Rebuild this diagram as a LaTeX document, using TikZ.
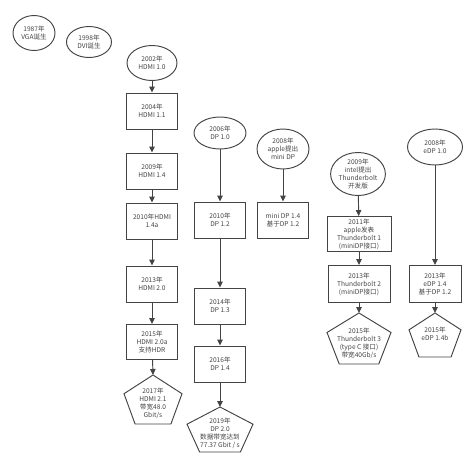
\documentclass[tikz,border=0pt]{standalone}
\usepackage{fontspec}
\setmainfont{Noto Sans CJK SC}
\usetikzlibrary{shapes.geometric,arrows.meta}
\definecolor{ink}{HTML}{444444}
% pentagon: name, centre x, top y, width, height
\newcommand{\penta}[5]{%
  \draw[line] (#2,#3) -- (#2+#4/2,#3+0.382*#5) -- (#2+0.309*#4,#3+#5)
    -- (#2-0.309*#4,#3+#5) -- (#2-#4/2,#3+0.382*#5) -- cycle;
  \coordinate (#1) at (#2,#3);}
\begin{document}
\begin{tikzpicture}[x=1pt,y=-1pt,
  line/.style={draw=ink,line width=0.95pt},
  txt/.style={text=ink,align=center,inner sep=0pt,font=\fontsize{6.6}{8}\selectfont},
  evt/.style={line,txt,ellipse,minimum width=50pt,minimum height=35pt},
  box/.style={line,txt,rectangle,minimum width=51pt,minimum height=36pt},
  arr/.style={line,-{Triangle[length=6pt,width=5.5pt]}}]
  \useasboundingbox (0,0) rectangle (474,464);
  % early
  \node[evt,minimum width=42pt] (vga) at (34,33) {1987年\\VGA诞生};
  \node[evt,minimum width=45pt,minimum height=31pt] (dvi) at (89,42) {1998年\\DVI诞生};
  % HDMI
  \node[evt] (hdmi10) at (152,63) {2002年\\HDMI 1.0};
  \node[box] (hdmi11) at (152,111) {2004年\\HDMI 1.1};
  \node[box] (hdmi14) at (152,171) {2009年\\HDMI 1.4};
  \node[box] (hdmi14a) at (152,221) {2010年HDMI\\1.4a};
  \node[box] (hdmi20) at (152,284) {2013年\\HDMI 2.0};
  \node[box,minimum height=35pt] (hdmi20a) at (152,342) {2015年\\HDMI 2.0a\\支持HDR};
  \penta{hdmi21}{153}{375}{58}{49}
  \node[txt] (hdmi21t) at (153,403) {2017年\\HDMI 2.1\\带宽48.0\\Gbit/s};
  \draw[arr] (hdmi10) -- (hdmi11);
  \draw[arr] (hdmi11) -- (hdmi14);
  \draw[arr] (hdmi14) -- (hdmi14a);
  \draw[arr] (hdmi14a) -- (hdmi20);
  \draw[arr] (hdmi20) -- (hdmi20a);
  \draw[arr] (hdmi20a) -- (hdmi21);
  % DP
  \node[evt,minimum width=52pt,minimum height=32pt] (dp10) at (220,133) {2006年\\DP 1.0};
  \node[box] (dp12) at (220,220) {2010年\\DP 1.2};
  \node[box] (dp13) at (220,306) {2014年\\DP 1.3};
  \node[box] (dp14) at (220,364) {2016年\\DP 1.4};
  \penta{dp20}{220}{407}{66}{45}
  \node[txt] (dp20t) at (220,433) {2019年\\DP 2.0\\数据带宽达到\\77.37 Gbit / s};
  \draw[arr] (dp10) -- (dp12);
  \draw[arr] (dp12) -- (dp13);
  \draw[arr] (dp13) -- (dp14);
  \draw[arr] (dp14) -- (dp20);
  % mini DP
  \node[evt,minimum width=52pt,minimum height=40pt] (mdp) at (283,149) {2008年\\apple提出\\mini DP};
  \node[box] (mdp14) at (283,220) {mini DP 1.4\\基于DP 1.2};
  \draw[arr] (mdp) -- (mdp14);
  % Thunderbolt
  \node[evt,minimum height=43pt] (tb0) at (358,174) {2009年\\intel提出\\Thunderbolt\\开发版};
  \node[box,minimum width=64pt,minimum height=35pt] (tb1) at (359,234) {2011年\\apple发表\\Thunderbolt 1\\(miniDP接口)};
  \node[box,minimum width=62pt,minimum height=37pt] (tb2) at (359,284) {2013年\\Thunderbolt 2\\(miniDP接口)};
  \penta{tb3}{359}{313}{64}{51}
  \node[txt] (tb3t) at (359,343) {2015年\\Thunderbolt 3\\(type C 接口)\\带宽40Gb/s};
  \draw[arr] (tb0) -- (tb1);
  \draw[arr] (tb1) -- (tb2);
  \draw[arr] (tb2) -- (tb3);
  % eDP
  \node[evt,minimum width=55pt,minimum height=36pt] (edp10) at (435,147) {2008年\\eDP 1.0};
  \node[box,minimum width=52pt,minimum height=37pt] (edp14) at (435,284) {2013年\\eDP 1.4\\基于DP 1.2};
  \penta{edp14b}{435}{313}{52}{44}
  \node[txt] (edp14bt) at (435,334) {2015年\\eDP 1.4b};
  \draw[arr] (edp10) -- (edp14);
  \draw[arr] (edp14) -- (edp14b);
\end{tikzpicture}
\end{document}
